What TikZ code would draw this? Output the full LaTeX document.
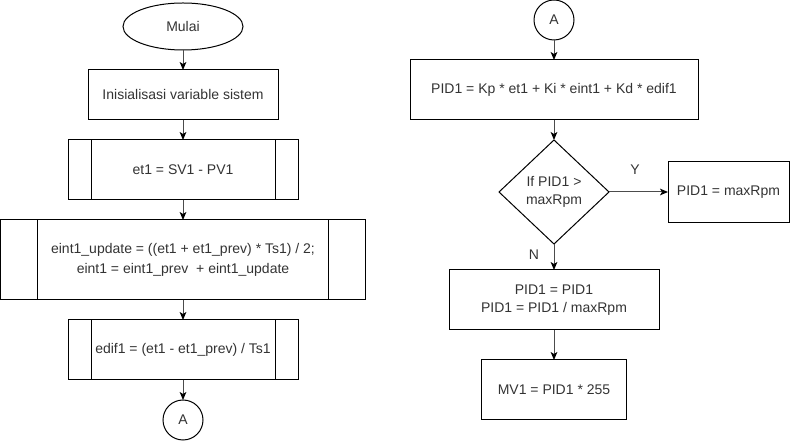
\documentclass[tikz,border=0pt]{standalone}
\usepackage{fontspec}
\setmainfont{Liberation Sans}
\usetikzlibrary{positioning,shapes.geometric,arrows.meta}

\begin{document}
\begin{tikzpicture}[x=0.75pt,y=-0.75pt,node distance=15pt,
font=\fontsize{10.5}{13.5}\selectfont,
every node/.style={draw=black,line width=0.75pt,align=center,inner sep=2pt,outer sep=0pt,text=black!80},
proc/.style={rectangle,minimum height=45pt},
subproc/.style={proc,path picture={
	\draw[line width=0.75pt] ([xshift=#1]path picture bounding box.north west) -- ([xshift=#1]path picture bounding box.south west);
	\draw[line width=0.75pt] ([xshift=-#1]path picture bounding box.north east) -- ([xshift=-#1]path picture bounding box.south east);
}},
connector/.style={circle,minimum size=30pt,inner sep=0pt},
flow/.style={draw=black!70,line width=0.75pt,-{Stealth[length=6pt,width=5pt,inset=1.5pt,color=black]}},
lbl/.style={draw=none}]

\useasboundingbox (0,0) rectangle (790,441);

\node[ellipse,minimum width=90pt,minimum height=35.25pt] (mulai) at (183,26.5) {Mulai};
\node[proc,minimum width=142.5pt,minimum height=37.5pt,below=of mulai] (init) {Inisialisasi variable sistem};
\node[subproc=17.25pt,minimum width=172.5pt,below=of init] (et) {et1 = SV1 - PV1};
\node[subproc=27.75pt,minimum width=273.75pt,minimum height=60pt,below=of et] (eint)
	{eint1\_update = ((et1 + et1\_prev) * Ts1) / 2;\\[1.5pt] eint1 = eint1\_prev\ \ + eint1\_update};
\node[subproc=17.25pt,minimum width=172.5pt,below=of eint] (edif) {edif1 = (et1 - et1\_prev) / Ts1};
\node[connector,below=of edif] (a1) {A};

\node[connector] (a2) at (554,20) {A};
\node[proc,minimum width=216pt,below=of a2] (pid) {PID1 = Kp * et1 + Ki * eint1 + Kd * edif1};
\node[diamond,minimum width=82.5pt,minimum height=78pt,inner sep=0pt,below=of pid] (cek) {If PID1 >\\maxRpm};
\node[proc,minimum width=90.75pt,minimum height=45.75pt,right=44.25pt of cek] (batas) {PID1 = maxRpm};
\node[proc,minimum width=157.5pt,below=19.5pt of cek] (norm) {PID1 = PID1\\PID1 = PID1 / maxRpm};
\node[proc,minimum width=108.75pt,below=22.5pt of norm] (mv) {MV1 = PID1 * 255};

\node[lbl] (ya) at (635,170) {Y};
\node[lbl] (tidak) at (534,255) {N};

\draw[flow] (mulai) -- (init);
\draw[flow] (init) -- (et);
\draw[flow] (et) -- (eint);
\draw[flow] (eint) -- (edif);
\draw[flow] (edif) -- (a1);
\draw[flow] (a2) -- (pid);
\draw[flow] (pid) -- (cek);
\draw[flow] (cek.east) -- (batas.west);
\draw[flow] (cek.south) -- (norm.north);
\draw[flow] (norm) -- (mv);
\end{tikzpicture}
\end{document}
